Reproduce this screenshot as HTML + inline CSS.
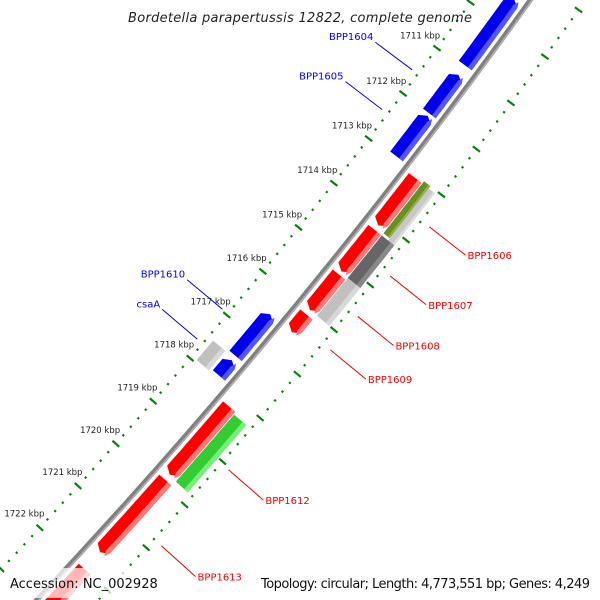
<!DOCTYPE html>
<html><head><meta charset="utf-8"><style>
html,body{margin:0;padding:0;background:#fff;width:600px;height:600px;overflow:hidden;}
svg{display:block;font-family:"DejaVu Sans","Liberation Sans",sans-serif;}
</style></head><body>
<svg id="map" width="600" height="600" viewBox="0 0 600 600" xmlns="http://www.w3.org/2000/svg">
<rect width="600" height="600" fill="#fff"/>
<g id="ticks"></g>
<g id="backbone"></g>
<g id="features"></g>
<g id="labels"></g>
<text x="128" y="22" font-size="13" font-style="italic" fill="#222" textLength="344">Bordetella parapertussis 12822, complete genome</text>
<rect x="4" y="568" width="146" height="30" fill="#fff" opacity="0.72"/>
<text x="10" y="588" font-size="13" fill="#111">Accession: NC_002928</text>
<text x="590" y="588" font-size="13" fill="#111" text-anchor="end" textLength="329">Topology: circular; Length: 4,773,551 bp; Genes: 4,249</text>
</svg>
<script>
// ---- data ----
const tickStart = 1709;
const tickEnd = 1724;
const tickLabelsKbp = [1711,1712,1713,1714,1715,1716,1717,1718,1719,1720,1721,1722];
const featNames  = ['BPP1604','BPP1605','blue-3','BPP1606','red-2','red-3','BPP1609','olive','gray-1606','BPP1607','BPP1608','csaA-gray','csaA','BPP1610','BPP1612','BPP1612-green','BPP1613','red-last'];
const featStart  = [1709.5,1711.15,1712.05,1713.05,1714.2,1715.2,1716.1,1713.0,1713.05,1714.2,1715.15,1717.5,1717.55,1716.5,1718.2,1718.25,1719.9,1722.0];
const featEnd    = [1710.95,1712.0,1712.95,1714.1,1715.13,1716.0,1716.5,1714.15,1714.2,1715.15,1716.0,1717.95,1717.9,1717.45,1719.78,1719.8,1721.6,1723.5];
const featSlot   = [0,0,0,1,1,1,1,3,4,2,2,-1,0,0,1,2,1,1];
const featStrand = [-1,-1,-1,1,1,1,1,0,0,0,0,0,-1,-1,1,0,1,1];
const featColor  = ['#0000ee','#0000ee','#0000ee','#ff0000','#ff0000','#ff0000','#ff0000','#6b8e23','#c8c8c8','#666666','#c0c0c0','#c0c0c0','#0000ee','#0000ee','#ff0000','#33cc33','#ff0000','#ff0000'];
const featLight  = ['#5555ff','#5555ff','#5555ff','#ff7777','#ff7777','#ff7777','#ff7777','#8fb04a','#dddddd','#888888','#d8d8d8','#d8d8d8','#5555ff','#5555ff','#ff7777','#77ee77','#ff7777','#ff7777'];
const geneLabels = ['BPP1604','BPP1605','BPP1610','csaA','BPP1606','BPP1607','BPP1608','BPP1609','BPP1612','BPP1613'];
const geneLabelKbp = [1711.57,1712.45,1716.97,1717.66,1713.57,1714.66,1715.56,1716.31,1719.04,1720.8];
const geneLabelSide = [-1,-1,-1,-1,1,1,1,1,1,1];
const geneLabelColor = ['#0000ee','#0000ee','#0000ee','#0000ee','#ee0000','#ee0000','#ee0000','#ee0000','#ee0000','#ee0000'];
// ---- geometry ----
const CX=-4242, CY=-3423, R0=5873;
const A0=36.57, DA=0.557;
function ang(k){return (A0+(k-1711)*DA)*Math.PI/180;}
function pt(k,r){const a=ang(k);return [CX+r*Math.cos(a),CY+r*Math.sin(a)];}
const NS='http://www.w3.org/2000/svg';
function mk(tag,attrs,parent){const e=document.createElementNS(NS,tag);for(const k in attrs)e.setAttribute(k,attrs[k]);parent.appendChild(e);return e;}
const gT=document.getElementById('ticks'),gB=document.getElementById('backbone'),gF=document.getElementById('features'),gL=document.getElementById('labels');
// ticks
const rings=[R0-47,R0+45];
rings.forEach((rr,ri)=>{
  for(let i=Math.round(tickStart*5);i<=tickEnd*5;i++){
    const k=i/5, major=(i%5===0);
    const len=major?9:2.2;
    const p1=pt(k,rr-len/2),p2=pt(k,rr+len/2);
    const l=mk('line',{x1:p1[0],y1:p1[1],x2:p2[0],y2:p2[1],stroke:'#0a800a','stroke-width':2.2},gT);
    
    
  }
});
tickLabelsKbp.forEach(k=>{
  const p=pt(k,R0-47-21);
  const t=mk('text',{x:p[0],y:p[1]+3,'font-size':'8.5','text-anchor':'middle',fill:'#222'},gT);
  t.textContent=k+' kbp';
  
  
});
// backbone
function arc(r1,k1,k2){const a=pt(k1,r1),b=pt(k2,r1);return 'M'+a[0]+','+a[1]+' A'+r1+','+r1+' 0 0 1 '+b[0]+','+b[1];}
let bb=mk('path',{d:arc(R0,1708,1724),stroke:'#808080','stroke-width':5,fill:'none'},gB);


let bb2=mk('path',{d:arc(R0+1.5,1708,1724),stroke:'#b0b0b0','stroke-width':1.5,fill:'none'},gB);


// features
const slotR={'-1':[5832,5848],'0':[5851,5867],'1':[5879,5895],'2':[5896,5912],'3':[5896,5904],'4':[5904,5912]};
const headK=0.09;
function featPath(k1,k2,r1,r2,strand){
  const pts=[];const N=12;
  let s=k1,e=k2;
  if(strand===1)e=k2-headK; if(strand===-1)s=k1+headK;
  for(let i=0;i<=N;i++)pts.push(pt(s+(e-s)*i/N,r2));
  if(strand===1)pts.push(pt(k2,(r1+r2)/2));
  for(let i=N;i>=0;i--)pts.push(pt(s+(e-s)*i/N,r1));
  if(strand===-1)pts.push(pt(k1,(r1+r2)/2));
  return 'M'+pts.map(p=>p[0].toFixed(1)+','+p[1].toFixed(1)).join(' L')+' Z';
}
for(let i=0;i<featNames.length;i++){
  const [r1,r2]=slotR[String(featSlot[i])];
  const p=mk('path',{d:featPath(featStart[i],featEnd[i],r1,r2,featStrand[i]),fill:featColor[i]},gF);
  
  
  const h=mk('path',{d:featPath(featStart[i],featEnd[i],r2-(r2-r1)*0.3,r2,featStrand[i]),fill:featLight[i]},gF);
  
  
}
// gene labels
for(let i=0;i<geneLabels.length;i++){
  const side=geneLabelSide[i];
  const rr=side<0?R0-47:R0+45;
  const a1=side<0?7:10, a2=side<0?53:56;
  const p1=pt(geneLabelKbp[i],rr+side*a1),p2=pt(geneLabelKbp[i],rr+side*a2);
  const l=mk('line',{x1:p1[0],y1:p1[1],x2:p2[0],y2:p2[1],stroke:geneLabelColor[i],'stroke-width':1},gL);
  
  
  const t=mk('text',{x:p2[0]+(side>0?2:-2),y:p2[1]+(side>0?4:-2),'font-size':'10','text-anchor':side>0?'start':'end',fill:geneLabelColor[i]},gL);
  t.textContent=geneLabels[i];
  
  
}
</script>
</body></html>
